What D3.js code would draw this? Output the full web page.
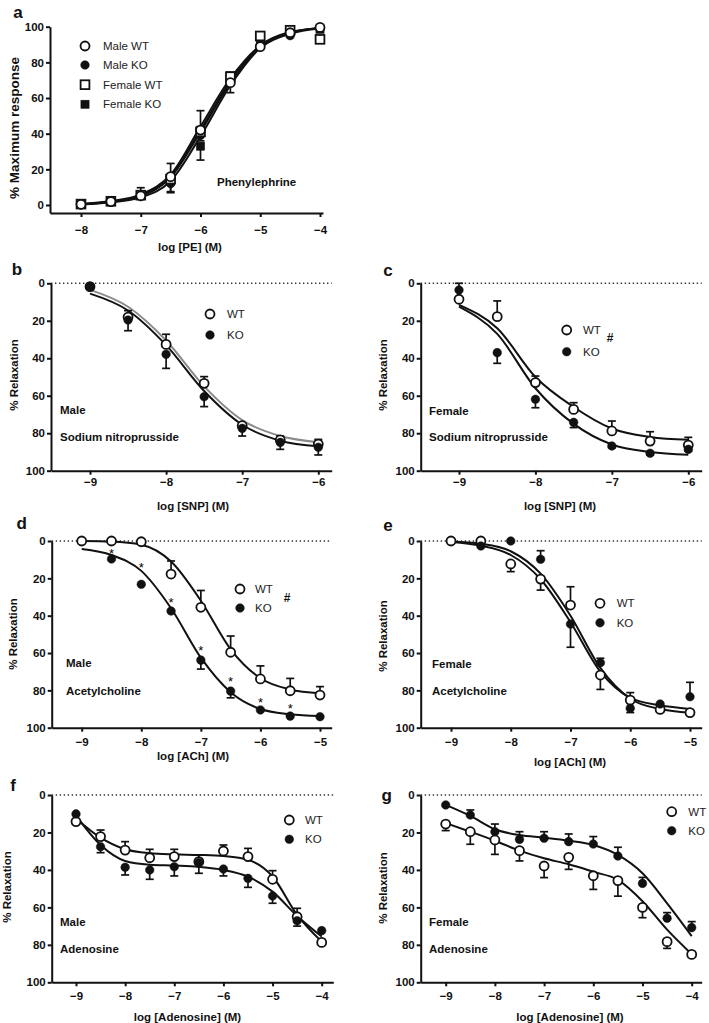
<!DOCTYPE html>
<html><head><meta charset="utf-8">
<script src="https://cdn.jsdelivr.net/npm/d3@7"></script>
<style>
body{margin:0;background:#fff}
svg{display:block;font-family:"Liberation Sans",Arial,Helvetica,sans-serif}
.domain{stroke:#111;stroke-width:2}
.tick line{stroke:#111;stroke-width:2}
.tick text{font-size:11.5px;font-weight:bold;fill:#111}
</style></head><body>
<svg id="chart" width="709" height="1023"></svg>
<script>
// ---------------- data ----------------
const xPE  = [-8,-7.5,-7,-6.5,-6,-5.5,-5,-4.5,-4];
const xSNP = [-9,-8.5,-8,-7.5,-7,-6.5,-6];
const xACh = [-9,-8.5,-8,-7.5,-7,-6.5,-6,-5.5,-5];
const xAdo = [-9,-8.5,-8,-7.5,-7,-6.5,-6,-5.5,-5,-4.5,-4];

const aMaleWT   = [0.4,1.9,5.2,15.9,42,68.6,88.8,96.6,99.6];
const aMaleWTe  = [0,0,4.5,7.4,10.9,0,0,0,0];
const aMaleKO   = [0.2,1.7,4.8,12,39,70,89.5,95,99];
const aMaleKOe  = [0,0,-1,-4.5,-3,-7,-1,-1,0];
const aFemWT    = [0.5,2.1,5.5,14.5,41,72,94.8,98,92.9];
const aFemWTe   = [0,0,1.5,3,3,2,1,1,1];
const aFemKO    = [0.3,1.8,5.8,13.1,33,72.5,89.5,97,98.5];
const aFemKOe   = [0,0,-1.5,-6.2,-7.8,-3,-1,-1,-1];
const aMaleWTfit = [0.4,1.8,5,15.5,41,68.5,88.5,96.5,99.3];
const aMaleKOfit = [0.3,1.5,4.3,13.5,38.5,67,88,96,99];
const aFemWTfit  = [0.5,2.2,6,17,44,71,89.5,97,99.2];
const aFemKOfit  = [0.4,1.9,5.4,15.8,42,69.5,89,96.8,99.2];

const bWT  = [1.8,18,32.6,53.4,76,83.6,85.8];
const bWTe = [0,-3.4,-5.4,-3.6,0,-2.1,-2.5];
const bKO  = [1.8,19.6,37.9,60.5,77.4,84.9,87.5];
const bKOe = [0,5.7,7.5,5.3,4.1,3.7,4.1];
const bWTfit = [3.5,12.5,30.5,55,73,81.5,84.8];
const bKOfit = [5.5,14.5,33,57.5,75.5,84,87];

const cWT  = [8.5,17.8,53,67.3,78.8,84.2,86.3];
const cWTe = [0,-8.4,-3.5,-3.6,-5.3,-5,-4.1];
const cKO  = [3.6,37,61.9,74.2,86.8,90.7,88.6];
const cKOe = [-3.6,5.7,4.5,2.8,1,1,1];
const cWTfit = [11.5,24,50,66,77.5,82,83.5];
const cKOfit = [12.5,27,56,75,86,90,91.5];

const dWT  = [0,0,0.4,17.7,35.5,59.6,73.9,80.2,82.5];
const dWTe = [0,0,0,-7,-9,-8.7,-7,-6.6,-4.5];
const dKO  = [null,9.6,23.2,37.5,63.8,80.4,90.5,93.8,94.1];
const dKOe = [0,0,0,0,4.8,3.6,0,0,0];
const dWTfit = [0,0.3,2,11,32,58,73.5,79.5,81.5];
const dKOfit = [4.3,7.5,16,36,62.5,81,90,92.8,93.8];
const dStarX = [-8.5,-8,-7.5,-7,-6.5,-6,-5.5];
const dStarY = [5.2,12.9,31.6,57,73.6,84.8,88.4];

const eWT  = [0,0,12.3,20.4,34.3,71.8,85.2,90.2,91.9];
const eWTe = [0,0,4.1,5.9,-9.8,7.7,-4,0,0];
const eKO  = [null,2.7,0,9.8,44.5,65.2,89.6,87.3,83.4];
const eKOe = [0,0,0,-4.6,12.4,-2.4,2.3,0,-7.7];
const eWTfit = [0.3,1.5,5.5,17.5,40,68,84.5,90,92];
const eKOfit = [0.5,2.5,7.5,20.5,43.5,70,84,88,90];

const fWT  = [14.2,22.2,29.4,33.5,32.9,35.6,29.9,32.9,45,65,78.7];
const fWTe = [0,-3.5,-4.5,-4.5,-3.9,-3.6,-3.2,-4.4,-4.6,-4.5,0];
const fKO  = [10.1,27.6,38.6,40,38.3,36.1,39.5,44.5,53.9,67.1,72.4];
const fKOe = [0,3.2,4.1,5,4.9,5.7,3.7,4.8,3.9,2.9,0];
const fWTfit = [12.5,22.8,29,31.1,31.7,32,32.6,34.6,43.5,64,78.3];
const fKOfit = [11,26.7,35.2,37.2,37.7,38.4,40,43.6,51.6,64.6,75.6];

const gWT  = [15.5,19.6,24,29.7,37.9,33.3,43.1,45.7,60,78.3,85.1];
const gWTe = [3.5,6.7,7.7,5.5,6.2,6.4,7.3,8.3,5.5,3.6,0];
const gKO  = [5.3,10.7,19.6,23.7,23.1,24.9,26.2,32.6,47.2,65.8,70.8];
const gKOe = [0,-2.7,-4.1,-4.1,-3.5,-4.1,-4,-4.7,-3.2,-3,-3.2];
const gWTfit = [15,19.6,24.4,29.7,33.8,37,41,45.3,56.7,71.9,85];
const gKOfit = [5.3,11.2,18.3,21.4,22.8,24.4,26.7,32,41.8,57.8,75.3];

const ticksPE = [-8,-7,-6,-5,-4];
const ticksSNP = [-9,-8,-7,-6];
const ticksACh = [-9,-8,-7,-6,-5];
const ticksAdo = [-9,-8,-7,-6,-5,-4];
const yTicks = [0,20,40,60,80,100];

// ---------------- panels (layout) ----------------
const wtko = (xs, wt, wte, ko, koe, wtf, kof, wtLine, koLine) => [
  {name:"WT", x:xs, v:wt, e:wte, fit:wtf, shape:"circle", open:true, line:wtLine||"#111"},
  {name:"KO", x:xs, v:ko, e:koe, fit:kof, shape:"circle", open:false, line:koLine||"#111"}
];

const panels = [
 {letter:"a", lx:18, ly:12, left:50, right:323, refT:[-8,-4], refPx:[81,320], y0:205, y100:26.7, bottom:213,
  xTicks:ticksPE, xPad:9, reversed:false, ytitle:"% Maximum response", ytfs:13.5, ytx:14, yty:128,
  xtitle:"log [PE] (M)", xtx:190, xty:247, dotted:false, order:[3,1,2,0],
  series:[
   {name:"Male WT", x:xPE, v:aMaleWT, e:aMaleWTe, fit:aMaleWTfit, shape:"circle", open:true, line:"#111"},
   {name:"Male KO", x:xPE, v:aMaleKO, e:aMaleKOe, fit:aMaleKOfit, shape:"circle", open:false, line:"#111"},
   {name:"Female WT", x:xPE, v:aFemWT, e:aFemWTe, fit:aFemWTfit, shape:"square", open:true, line:"#111"},
   {name:"Female KO", x:xPE, v:aFemKO, e:aFemKOe, fit:aFemKOfit, shape:"square", open:false, line:"#111"}],
  legend:{mx:85, tx:103, rows:[46,65,84.7,104.3]},
  notes:[{t:"Phenylephrine", x:217, y:182}]},
 {letter:"b", lx:17, ly:269, left:51, right:331.7, refT:[-9,-6], refPx:[90,318.3], y0:283.3, y100:470.7, bottom:470.7,
  xTicks:ticksSNP, xPad:3, reversed:true, ytitle:"% Relaxation", ytx:14, yty:375,
  xtitle:"log [SNP] (M)", xtx:193, xty:506, dotted:true,
  series:wtko(xSNP,bWT,bWTe,bKO,bKOe,bWTfit,bKOfit,"#8a8a8a","#111"),
  legend:{mx:210, tx:227, rows:[314,335]},
  notes:[{t:"Male", x:60, y:410},{t:"Sodium nitroprusside", x:60, y:437}]},
 {letter:"c", lx:388, ly:270, left:420.7, right:701.7, refT:[-9,-6], refPx:[459,688.3], y0:283.3, y100:470.7, bottom:470.7,
  xTicks:ticksSNP, xPad:3, reversed:true, ytitle:"% Relaxation", ytx:383, yty:375,
  xtitle:"log [SNP] (M)", xtx:560, xty:506, dotted:true,
  series:wtko(xSNP,cWT,cWTe,cKO,cKOe,cWTfit,cKOfit),
  legend:{mx:566.7, tx:583, rows:[330,351.7], hash:{x:610, y:338}},
  notes:[{t:"Female", x:429, y:410.7},{t:"Sodium nitroprusside", x:429, y:437}]},
 {letter:"d", lx:21.7, ly:523, left:51.7, right:331.7, refT:[-9,-5], refPx:[81.7,320], y0:541, y100:727.7, bottom:727.7,
  xTicks:ticksACh, xPad:6, reversed:true, ytitle:"% Relaxation", ytx:13, yty:634,
  xtitle:"log [ACh] (M)", xtx:193, xty:756, dotted:true,
  series:wtko(xACh,dWT,dWTe,dKO,dKOe,dWTfit,dKOfit),
  legend:{mx:240, tx:255, rows:[589,608], hash:{x:287, y:598}},
  stars:{x:dStarX, y:dStarY},
  notes:[{t:"Male", x:66, y:663},{t:"Acetylcholine", x:66, y:691}]},
 {letter:"e", lx:388, ly:525, left:420.7, right:701.7, refT:[-9,-5], refPx:[451,690], y0:541, y100:727.7, bottom:727.7,
  xTicks:ticksACh, xPad:6, reversed:true, ytitle:"% Relaxation", ytx:383, yty:636,
  xtitle:"log [ACh] (M)", xtx:570, xty:761.7, dotted:true,
  series:wtko(xACh,eWT,eWTe,eKO,eKOe,eWTfit,eKOfit),
  legend:{mx:600, tx:616.7, rows:[603.3,622.7]},
  notes:[{t:"Female", x:432, y:664},{t:"Acetylcholine", x:432, y:690.7}]},
 {letter:"f", lx:13, ly:785, left:51.7, right:333.3, refT:[-9,-4], refPx:[76,321.7], y0:795, y100:982.3, bottom:982.3,
  xTicks:ticksAdo, xPad:6, reversed:true, ytitle:"% Relaxation", ytx:7, yty:887,
  xtitle:"log [Adenosine] (M)", xtx:187.5, xty:1016.7, dotted:true,
  series:wtko(xAdo,fWT,fWTe,fKO,fKOe,fWTfit,fKOfit),
  legend:{mx:289.3, tx:305, rows:[820,839.3]},
  notes:[{t:"Male", x:60, y:921.7},{t:"Adenosine", x:60, y:949}]},
 {letter:"g", lx:386.7, ly:795, left:420.7, right:701.7, refT:[-9,-4], refPx:[445.7,691.7], y0:795, y100:982.3, bottom:982.3,
  xTicks:ticksAdo, xPad:6, reversed:true, ytitle:"% Relaxation", ytx:383, yty:888,
  xtitle:"log [Adenosine] (M)", xtx:570, xty:1016.7, dotted:true,
  series:wtko(xAdo,gWT,gWTe,gKO,gKOe,gWTfit,gKOfit),
  legend:{mx:671.7, tx:688.3, rows:[811.7,830.7]},
  notes:[{t:"Female", x:429, y:921.7},{t:"Adenosine", x:429, y:949}]}
];

// ---------------- drawing ----------------
const svg = d3.select("#chart");
const R = 4.5, SQ = 8.8;

function marker(g, s, cx, cy){
  if (s.shape === "circle") {
    g.append("circle").attr("cx",cx).attr("cy",cy).attr("r", s.open ? R : R-0.2)
      .attr("fill", s.open ? "#fff" : "#111").attr("stroke","#111").attr("stroke-width", s.open ? 1.8 : 0.5);
  } else {
    const w = s.open ? SQ : SQ-0.6;
    g.append("rect").attr("x",cx-w/2).attr("y",cy-w/2).attr("width",w).attr("height",w)
      .attr("fill", s.open ? "#fff" : "#111").attr("stroke","#111").attr("stroke-width", s.open ? 1.8 : 0.5);
  }
}

panels.forEach(p => {
  const g = svg.append("g");
  const xr = d3.scaleLinear().domain(p.refT).range(p.refPx);
  const x = d3.scaleLinear().domain([xr.invert(p.left), xr.invert(p.right)]).range([p.left, p.right]);
  const yr = d3.scaleLinear().domain([0,100]).range([p.y0, p.y100]);
  const yLow = p.reversed ? 0 : yr.invert(p.bottom);
  const y = d3.scaleLinear().domain(p.reversed ? [0,100] : [yLow,100])
              .range(p.reversed ? [p.y0, p.y100] : [p.bottom, p.y100]);
  const drawn = (p.order || p.series.map((_,i)=>i)).map(i => p.series[i]);

  if (p.dotted) {
    g.append("line").attr("x1",p.left).attr("x2",p.right).attr("y1",y(0)).attr("y2",y(0))
      .attr("stroke","#333").attr("stroke-width",1.5).attr("stroke-dasharray","1.4,2.6");
  }

  g.append("g").attr("transform",`translate(${p.left},0)`)
    .call(d3.axisLeft(y).tickValues(yTicks).tickSize(4).tickSizeOuter(0).tickPadding(2).tickFormat(d3.format("d")));
  g.append("g").attr("transform",`translate(0,${p.bottom})`)
    .call(d3.axisBottom(x).tickValues(p.xTicks).tickSize(4).tickSizeOuter(0).tickPadding(p.xPad).tickFormat(d3.format("d")));

  const line = d3.line().x(d=>x(d[0])).y(d=>y(d[1])).curve(d3.curveMonotoneX);
  drawn.forEach(s => {
    const pts = s.x.map((xx,i)=>[xx, s.fit[i]]);
    g.append("path").attr("d", line(pts)).attr("fill","none").attr("stroke", s.line).attr("stroke-width",2);
  });

  drawn.forEach(s => {
    s.x.forEach((xx,i) => {
      const v = s.v[i], e = s.e[i];
      if (v == null || !e) return;
      const cx = x(xx), y1 = y(v), y2 = y(v+e);
      g.append("line").attr("x1",cx).attr("x2",cx).attr("y1",y1).attr("y2",y2).attr("stroke","#111").attr("stroke-width",1.7);
      g.append("line").attr("x1",cx-4).attr("x2",cx+4).attr("y1",y2).attr("y2",y2).attr("stroke","#111").attr("stroke-width",1.7);
    });
  });

  drawn.forEach(s => {
    s.x.forEach((xx,i) => { if (s.v[i] != null) marker(g, s, x(xx), y(s.v[i])); });
  });

  if (p.stars) {
    p.stars.x.forEach((xx,i) => {
      g.append("text").attr("x", x(xx)).attr("y", y(p.stars.y[i]) + 7.2).attr("text-anchor","middle")
        .attr("font-size",13).attr("fill","#000").text("*");
    });
  }

  p.series.forEach((s,i) => {
    const ry = p.legend.rows[i];
    marker(g, s, p.legend.mx, ry);
    g.append("text").attr("x",p.legend.tx).attr("y",ry).attr("dy","0.35em")
      .attr("font-size",11.5).attr("fill","#222").text(s.name);
  });
  if (p.legend.hash) {
    g.append("text").attr("x",p.legend.hash.x).attr("y",p.legend.hash.y).attr("dy","0.35em")
      .attr("text-anchor","middle").attr("font-size",12).attr("font-weight","bold").attr("fill","#111").text("#");
  }

  p.notes.forEach(n => {
    g.append("text").attr("x",n.x).attr("y",n.y).attr("dy","0.35em")
      .attr("font-size",11.5).attr("font-weight","bold").attr("fill","#111").text(n.t);
  });

  g.append("text").attr("transform",`translate(${p.ytx},${p.yty}) rotate(-90)`).attr("dy","0.35em")
    .attr("text-anchor","middle").attr("font-size",p.ytfs || 11.5).attr("font-weight","bold").attr("fill","#111").text(p.ytitle);
  g.append("text").attr("x",p.xtx).attr("y",p.xty).attr("dy","0.35em")
    .attr("text-anchor","middle").attr("font-size",11.5).attr("font-weight","bold").attr("fill","#111").text(p.xtitle);
  g.append("text").attr("x",p.lx).attr("y",p.ly).attr("dy","0.35em")
    .attr("text-anchor","middle").attr("font-size",17).attr("font-weight","bold").attr("fill","#111").text(p.letter);
});
</script>
</body></html>
